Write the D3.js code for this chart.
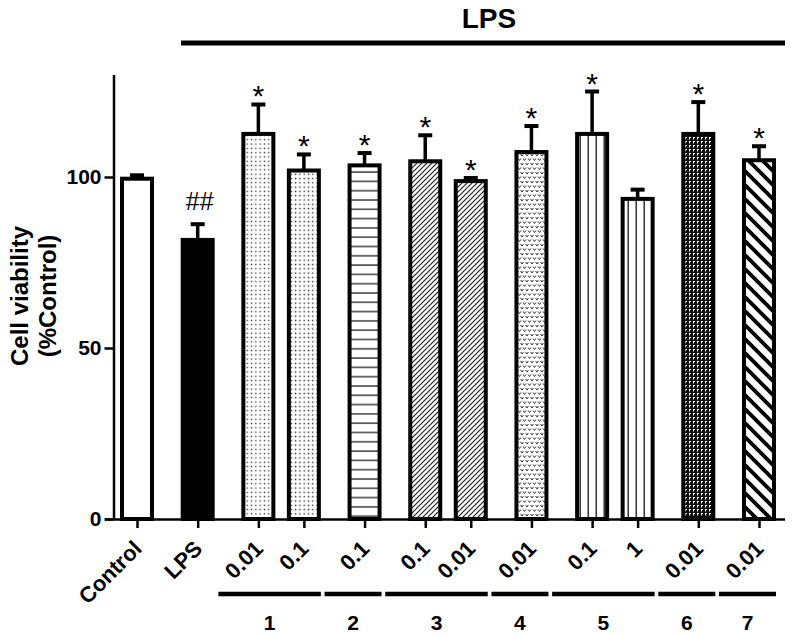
<!DOCTYPE html>
<html>
<head>
<meta charset="utf-8">
<script src="https://cdn.jsdelivr.net/npm/d3@7"></script>
<style>
  html, body { margin: 0; padding: 0; background: #fff; }
  svg { display: block; }
  text { font-family: "Liberation Sans", Arial, Helvetica, sans-serif; }
</style>
</head>
<body>
<svg id="chart" width="795" height="636"></svg>
<script>
// ---------- data ----------
const categories = ["Control", "LPS", "0.01", "0.1", "0.1", "0.1", "0.01", "0.01", "0.1", "1", "0.01", "0.01"];
const groups     = ["", "", "1", "1", "2", "3", "3", "4", "5", "5", "6", "7"];
const values     = [99.5, 81.6, 112.6, 101.9, 103.4, 104.6, 98.8, 107.3, 112.6, 93.6, 112.6, 104.9];
const errors     = [1, 4.6, 8.6, 4.7, 3.6, 7.6, 0.9, 7.6, 12.4, 2.7, 9.3, 4.1];
const marks      = ["", "##", "*", "*", "*", "*", "*", "*", "*", "", "*", "*"];
const yTicks     = [0, 50, 100];
const groupLabels = ["1", "2", "3", "4", "5", "6", "7"];
const topLabel   = "LPS";
const yTitle     = ["Cell viability", "(%Control)"];

// fill style for each bar (pattern ids)
const fills = ["#fff", "#000", "url(#dots)", "url(#dots2)", "url(#hlines)", "url(#diag)", "url(#diag)",
               "url(#vees)", "url(#vlines)", "url(#vlines)", "url(#mesh)", "url(#thick)"];

const svg = d3.select("#chart");

// ---------- patterns ----------
const defs = svg.append("defs");
let p = defs.append("pattern").attr("id", "dots").attr("patternUnits", "userSpaceOnUse").attr("width", 4.3).attr("height", 4.3);
p.append("rect").attr("width", 4.3).attr("height", 4.3).attr("fill", "#fff");
p.append("rect").attr("x", 1.5).attr("y", 1.5).attr("width", 1.3).attr("height", 1.3).attr("fill", "#222");

p = defs.append("pattern").attr("id", "dots2").attr("patternUnits", "userSpaceOnUse").attr("width", 4.3).attr("height", 4.3).attr("x", 1);
p.append("rect").attr("width", 4.3).attr("height", 4.3).attr("fill", "#fff");
p.append("rect").attr("x", 1.5).attr("y", 1.5).attr("width", 1.4).attr("height", 1.4).attr("fill", "#222");

p = defs.append("pattern").attr("id", "hlines").attr("patternUnits", "userSpaceOnUse").attr("width", 10).attr("height", 9.3);
p.append("rect").attr("width", 10).attr("height", 9.3).attr("fill", "#fff");
p.append("rect").attr("x", 0).attr("y", 4).attr("width", 10).attr("height", 1.4).attr("fill", "#333");

p = defs.append("pattern").attr("id", "diag").attr("patternUnits", "userSpaceOnUse").attr("width", 5).attr("height", 5);
p.append("rect").attr("width", 5).attr("height", 5).attr("fill", "#fff");
p.append("path").attr("d", "M-1,6 L6,-1 M-1,1 L1,-1 M4,6 L6,4").attr("stroke", "#222").attr("stroke-width", 1.2);

p = defs.append("pattern").attr("id", "vees").attr("patternUnits", "userSpaceOnUse").attr("width", 5).attr("height", 9);
p.append("rect").attr("width", 5).attr("height", 9).attr("fill", "#fff");
p.append("path").attr("d", "M0.6,1 L2,3 L3.4,1 M-1.9,5.5 L-0.5,7.5 L0.9,5.5 M3.1,5.5 L4.5,7.5 L5.9,5.5")
  .attr("stroke", "#333").attr("stroke-width", 1).attr("fill", "none");

p = defs.append("pattern").attr("id", "vlines").attr("patternUnits", "userSpaceOnUse").attr("width", 8).attr("height", 10);
p.append("rect").attr("width", 8).attr("height", 10).attr("fill", "#fff");
p.append("rect").attr("x", 3.5).attr("y", 0).attr("width", 1.4).attr("height", 10).attr("fill", "#222");

p = defs.append("pattern").attr("id", "mesh").attr("patternUnits", "userSpaceOnUse").attr("width", 4).attr("height", 4);
p.append("rect").attr("width", 4).attr("height", 4).attr("fill", "#111");
p.append("path").attr("d", "M1,1 h2 v0.9 h-1.1 v1.6 h-0.9 z").attr("fill", "#fff");

p = defs.append("pattern").attr("id", "thick").attr("patternUnits", "userSpaceOnUse").attr("width", 14).attr("height", 14);
p.append("rect").attr("width", 14).attr("height", 14).attr("fill", "#fff");
p.append("path").attr("d", "M-2,-2 L16,16 M-2,12 L2,16 M12,-2 L16,2").attr("stroke", "#000").attr("stroke-width", 3.8);

// ---------- scales ----------
// bar slot units: pairs within same compound group are closer
const units = [];
categories.forEach((c, i) => {
  if (i === 0) units.push(0);
  else units.push(units[i - 1] + ((groups[i] !== "" && groups[i] === groups[i - 1]) ? 3 : 4));
});
const x = d3.scaleLinear().domain([0, units[units.length - 1]]).range([137, 759]);
const y = d3.scaleLinear().domain([0, 130]).range([519, 74.4]);
const barW = 30;

// ---------- axes ----------
const yAxis = svg.append("g").attr("transform", "translate(113.5,0)")
  .call(d3.axisLeft(y).tickValues(yTicks).tickSize(9).tickSizeOuter(0).tickPadding(3));
yAxis.select(".domain").attr("stroke-width", 2.5);
yAxis.selectAll(".tick line").attr("stroke-width", 2.5);
yAxis.selectAll(".tick text").attr("font-size", 21).attr("font-weight", "bold")
  .attr("font-family", "'Liberation Sans', Arial, sans-serif").attr("fill", "#000");

const xAxis = svg.append("g").attr("transform", "translate(0,519)")
  .call(d3.axisBottom(x).tickValues(units).tickFormat("").tickSize(9).tickSizeOuter(0));
xAxis.select(".domain").remove();
xAxis.selectAll(".tick line").attr("stroke-width", 2.5);
svg.append("line").attr("x1", 105).attr("x2", 785).attr("y1", 519.5).attr("y2", 519.5)
  .attr("stroke", "#000").attr("stroke-width", 2.5);

// ---------- bars ----------
const bars = svg.append("g");
categories.forEach((c, i) => {
  const cx = x(units[i]);
  // error bar
  bars.append("line").attr("x1", cx).attr("x2", cx).attr("y1", y(values[i])).attr("y2", y(values[i] + errors[i]))
    .attr("stroke", "#000").attr("stroke-width", 3.5);
  bars.append("line").attr("x1", cx - 7).attr("x2", cx + 7).attr("y1", y(values[i] + errors[i])).attr("y2", y(values[i] + errors[i]))
    .attr("stroke", "#000").attr("stroke-width", 4);
  bars.append("rect").attr("x", cx - barW / 2).attr("y", y(values[i])).attr("width", barW)
    .attr("height", y(0) - y(values[i])).attr("fill", fills[i]).attr("stroke", "#000").attr("stroke-width", 4);
  // significance mark
  if (marks[i] === "*") {
    bars.append("text").attr("x", cx).attr("y", y(values[i] + errors[i]) + 2).attr("text-anchor", "middle")
      .attr("font-size", 30).text(marks[i]);
  } else if (marks[i] !== "") {
    bars.append("text").attr("x", cx + 2).attr("y", y(values[i] + errors[i]) - 14).attr("text-anchor", "middle")
      .attr("font-size", 25).text(marks[i]);
  }
  // rotated category label
  bars.append("text").attr("transform", `translate(${cx + 6},550) rotate(-45)`).attr("text-anchor", "end")
    .attr("font-size", 22).attr("font-weight", "bold").text(c);
});

// ---------- group lines ----------
groupLabels.forEach(g => {
  const idx = groups.map((v, i) => v === g ? i : -1).filter(i => i >= 0);
  const x1 = x(units[idx[0]]) - 40;
  const x2 = Math.min(x(units[idx[idx.length - 1]]) + 17, 790);
  svg.append("line").attr("x1", x1).attr("x2", x2).attr("y1", 594).attr("y2", 594)
    .attr("stroke", "#000").attr("stroke-width", 4.5);
  svg.append("text").attr("x", (x1 + x2) / 2).attr("y", 630).attr("text-anchor", "middle")
    .attr("font-size", 21).attr("font-weight", "bold").text(g);
});

// ---------- top LPS bracket ----------
svg.append("line").attr("x1", 181).attr("x2", 785).attr("y1", 43).attr("y2", 43)
  .attr("stroke", "#000").attr("stroke-width", 5);
svg.append("text").attr("x", 489).attr("y", 28).attr("text-anchor", "middle")
  .attr("font-size", 28).attr("font-weight", "bold").text(topLabel);

// ---------- y title ----------
const yt = svg.append("text").attr("transform", "translate(0,296) rotate(-90)")
  .attr("text-anchor", "middle").attr("font-size", 24).attr("font-weight", "bold");
yt.append("tspan").attr("x", 0).attr("y", 28).text(yTitle[0]);
yt.append("tspan").attr("x", 0).attr("y", 56).text(yTitle[1]);
</script>
</body>
</html>
